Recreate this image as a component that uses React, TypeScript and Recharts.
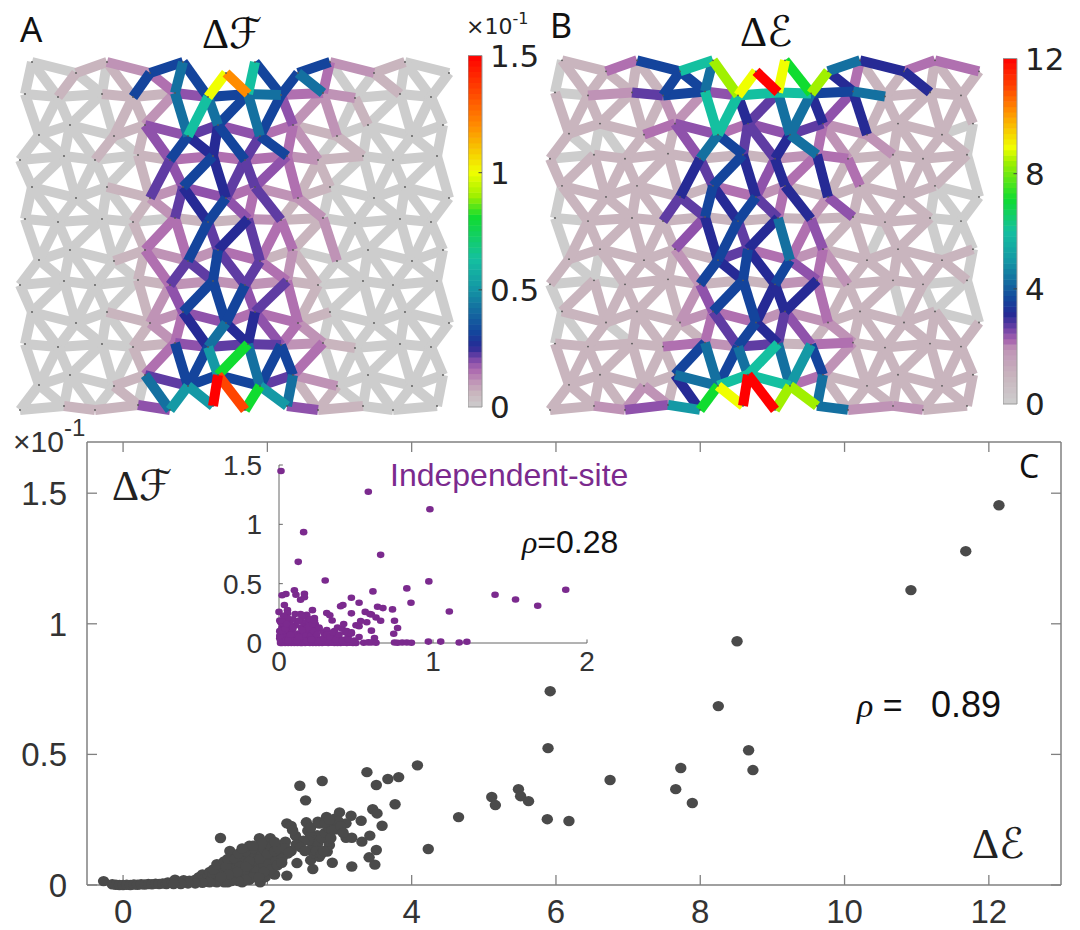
import React from "react";
import { ScatterChart, Scatter, XAxis, YAxis, ReferenceArea, ReferenceLine } from "recharts";

// ---- mesh node readings (one repeating block of 4 rows, repeats every 125 units)
const ROW_X = [
  [32, 76, 107, 150, 183, 226, 255, 298, 330, 374, 405, 449],
  [25, 58, 102, 133, 175, 208, 248, 281, 323, 355, 400, 431],
  [39, 70, 114, 145, 188, 218, 260, 293, 337, 368, 412, 443],
  [20, 64, 95, 138, 170, 213, 245, 287, 318, 363, 393, 437],
];
const ROW_Y = [
  [62, 73, 62, 73, 62, 73, 62, 73, 62, 73, 62, 73],
  [94, 97, 94, 97, 93, 97, 94, 95, 93, 98, 94, 97],
  [135, 125, 136, 125, 136, 125, 136, 125, 136, 125, 136, 125],
  [160, 156, 160, 155, 160, 156, 160, 156, 160, 156, 160, 156],
];
const BLOCK_SHIFT = [0, 125, 250];

// ---- per-link readings, one character per link = index into the level tables; "-" = no link
const LEVEL_KEYS = "0123456789abcdefg";
const LEVEL_F = [0, 0.06, 0.11, 0.15, 0.19, 0.22, 0.255, 0.315, 0.42, 0.51, 0.63, 0.81, 0.9, 1.0, 1.2, 1.35, 1.5];
const LEVEL_E = [0, 0.96, 1.92, 2.1, 2.4, 2.7, 3.1, 3.6, 4.3, 5.0, 6.0, 7.1, 8.4, 8.9, 10.2, 11.0, 12];
const LEVEL_COLORS = ["#cdcdcd", "#c9b5be", "#bf93b6", "#b070b0", "#8f52ab", "#5f3ca3", "#262a95", "#14449c", "#1470a0", "#1499a5", "#14c0a0", "#10dc30", "#a0f000", "#f0ff00", "#ff8c00", "#ff4400", "#ff0000"];

const F_ROWS = ["0127---7210", "00114783200", "00145431000", "00013332100", "00124321000", "00001121000", "00122310000", "00012221000", "00124331000", "00014552100", "00157752000", "0114---4100"];
const F_GAPS = [
  "00 10 01 73 87 de a7 78 30 01 00 0",
  "0 00 00 11 28 a8 78 74 22 01 00 00",
  "00 00 10 14 76 67 57 32 01 00 00 0",
  "0 00 00 01 54 76 55 43 11 00 00 00",
  "00 00 00 12 56 74 35 12 00 00 00 0",
  "0 00 00 01 33 75 65 33 12 00 00 00",
  "00 00 00 13 55 75 53 21 00 00 00 0",
  "0 00 00 01 24 77 74 53 10 00 00 00",
  "00 00 00 12 36 86 64 32 00 00 00 0",
  "0 00 00 01 37 79 b8 77 30 00 00 00",
  "00 00 01 08 99 gf b9 81 10 00 00 0",
];
const E_ROWS = ["137a---8633", "02574aa7811", "11343452110", "01111123111", "11113211110", "01111111110", "11115321111", "00111121110", "11123221110", "11132513111", "1118aa31111", "1249---8221"];
const E_GAPS = [
  "01 11 11 77 8c dg db c6 31 16 11 1",
  "1 11 11 12 2a a6 58 86 46 11 11 11",
  "10 00 11 14 87 55 68 32 12 11 11 0",
  "1 11 11 11 65 76 46 36 13 11 11 10",
  "01 11 11 55 76 75 36 24 11 11 00 0",
  "0 11 11 11 46 75 68 34 11 01 10 00",
  "10 01 11 12 76 76 74 32 11 11 11 0",
  "0 11 11 11 24 77 66 63 11 10 10 00",
  "00 10 11 11 35 76 54 12 11 11 11 1",
  "1 11 11 11 78 78 a8 97 21 11 11 11",
  "11 11 22 16 bd gg cc 81 11 11 11 1",
];

// ---- panel C, main scatter (dE, dF)
const MAIN_X = [-0.27, -0.15, -0.1, -0.05, 0, 0.05, 0.1, 0.15, 0.2, 0.25, 0.3, 0.35, 0.4, 0.45, 0.5, 0.55, 0.6, 0.62, 0.68, 0.72, 0.76, 0.8, 0.84, 0.88, 0.92, 0.96, 1.0, 1.02, 1.05, 1.08, 1.1, 1.12, 1.15, 1.18, 1.2, 1.22, 1.25, 1.28, 1.3, 1.32, 1.35, 1.38, 1.4, 1.42, 1.45, 1.48, 1.5, 1.5, 1.52, 1.55, 1.57, 1.58, 1.6, 1.62, 1.65, 1.65, 1.68, 1.7, 1.72, 1.75, 1.75, 1.78, 1.8, 1.82, 1.85, 1.85, 1.88, 1.9, 1.92, 1.95, 1.97, 2.0, 2.0, 2.02, 2.05, 2.08, 2.1, 2.12, 2.15, 2.18, 2.22, 2.28, 2.33, 1.35, 1.89, 2.04, 2.25, 2.43, 1.48, 2.27, 2.41, 2.63, 2.9, 3.17, 3.49, 3.41, 3.51, 3.31, 3.09, 3.17, 3.42, 2.39, 2.56, 2.96, 2.92, 2.27, 2.33, 2.54, 2.7, 2.82, 2.94, 3.0, 3.16, 3.3, 3.59, 3.09, 3.46, 3.52, 3.77, 2.53, 2.45, 2.76, 3.38, 3.51, 3.67, 3.82, 4.08, 4.65, 4.23, 2.69, 2.82, 2.86, 2.63, 2.6, 2.83, 2.6, 2.72, 2.64, 5.11, 5.16, 5.48, 5.51, 5.62, 5.88, 6.18, 6.75, 7.66, 7.73, 7.89, 8.67, 8.73, 5.89, 5.92, 8.25, 8.51, 10.92, 11.68, 12.14,
  1.25, 1.3, 1.4, 1.43, 1.45, 1.55, 1.6, 1.62, 1.7, 1.75, 1.8, 1.85, 1.9, 1.95, 2.0, 2.02, 2.05, 2.1, 2.12, 2.15, 2.2, 2.25, 2.3, 2.05, 1.95, 1.8, 1.7, 1.6, 1.5, 1.4, 1.3, 1.2, 1.1, 1.0, 0.9, 0.8, 0.7, 1.75, 1.65, 2.0, 2.1, 1.92, 1.8, 2.6, 2.65, 2.7, 2.75, 2.8, 2.85, 2.9, 2.88, 2.68, 2.75, 2.78, 2.6, 2.57, 2.5, 1.7, 1.58, 1.46, 1.36, 1.88, 2.14, 2.2,
  2.4, 2.46, 2.52, 2.35, 2.72, 2.98, 3.02, 3.05, 2.8, 2.86];
const MAIN_Y = [0.015, 0.003, 0.001, 0, 0, 0.001, 0, 0.002, 0.001, 0.003, 0.002, 0.004, 0.003, 0.005, 0.004, 0.006, 0.004, 0.01, 0.008, 0.02, 0.012, 0.009, 0.018, 0.01, 0.016, 0.012, 0.02, 0.01, 0.03, 0.015, 0.04, 0.022, 0.012, 0.035, 0.05, 0.02, 0.04, 0.012, 0.03, 0.06, 0.045, 0.07, 0.025, 0.05, 0.01, 0.035, 0.06, 0.08, 0.1, 0.05, 0.02, 0.07, 0.09, 0.035, 0.06, 0.01, 0.08, 0.1, 0.05, 0.13, 0.02, 0.07, 0.11, 0.04, 0.09, 0.135, 0.06, 0.01, 0.12, 0.08, 0.03, 0.1, 0.14, 0.06, 0.12, 0.09, 0.04, 0.15, 0.11, 0.13, 0.115, 0.12, 0.13, 0.18, 0.179, 0.179, 0.166, 0.157, 0.13, 0.036, 0.084, 0.061, 0.085, 0.071, 0.078, 0.106, 0.134, 0.166, 0.181, 0.181, 0.189, 0.189, 0.208, 0.213, 0.23, 0.236, 0.226, 0.24, 0.242, 0.261, 0.255, 0.278, 0.265, 0.246, 0.227, 0.236, 0.29, 0.274, 0.309, 0.324, 0.38, 0.398, 0.432, 0.383, 0.406, 0.413, 0.458, 0.26, 0.138, 0.191, 0.179, 0.153, 0.159, 0.134, 0.128, 0.095, 0.108, 0.122, 0.337, 0.306, 0.367, 0.34, 0.321, 0.252, 0.245, 0.402, 0.367, 0.448, 0.314, 0.516, 0.44, 0.524, 0.742, 0.685, 0.933, 1.129, 1.278, 1.454,
  0.06, 0.08, 0.09, 0.07, 0.1, 0.1, 0.12, 0.07, 0.13, 0.09, 0.14, 0.05, 0.1, 0.14, 0.12, 0.08, 0.15, 0.13, 0.09, 0.14, 0.1, 0.14, 0.125, 0.06, 0.05, 0.03, 0.02, 0.015, 0.015, 0.01, 0.01, 0.01, 0.008, 0.006, 0.006, 0.004, 0.004, 0.15, 0.14, 0.16, 0.165, 0.16, 0.15, 0.19, 0.17, 0.16, 0.18, 0.2, 0.22, 0.21, 0.18, 0.13, 0.12, 0.13, 0.22, 0.17, 0.17, 0.07, 0.05, 0.04, 0.03, 0.03, 0.075, 0.085,
  0.155, 0.145, 0.13, 0.21, 0.235, 0.245, 0.225, 0.2, 0.24, 0.25];

// ---- panel C, inset scatter (independent-site)
const INSET_X = [0.013, 0.58, 0.98, 0.16, 0.66, 0.125, 0.3, 0.973, 0.83, 0.61, 1.862, 1.403, 1.536, 1.68, 0.857, 1.106, 0.47, 0.52, 0.415, 0.4, 0.64, 0.675, 0.737, 0.47, 0.217, 0.31, 0.33, 0.56, 0.59, 0.6, 0.63, 0.66, 0.53, 0.52, 0.57, 0.75, 0.77, 0.745, 0.6, 0.62, 0.02, 0.045, 0.1, 0.11, 0.165, 0.14, 0.165, 0.035, 0.055, 0.055, 0, 0.105, 0.14, 0.18, 0.22, 0.01, 0.02, 0.03, 0.04, 0.05, 0.06, 0.07, 0.08, 0.09, 0.1, 0.11, 0.12, 0.13, 0.14, 0.15, 0.16, 0.17, 0.18, 0.19, 0.2, 0.21, 0.22, 0.23, 0.24, 0.25, 0.26, 0.28, 0.3, 0.32, 0.34, 0.36, 0.38, 0.4, 0.42, 0.44, 0.46, 0.48, 0.5, 0.55, 0.58, 0.6, 0.63, 0.75, 0.77, 0.8, 0.83, 0.86, 0.97, 1.05, 1.17, 1.22, 0.005, 0.015, 0.025, 0.03, 0.04, 0.05, 0.06, 0.065, 0.075, 0.085, 0.095, 0.11, 0.125, 0.135, 0.155, 0.17, 0.185, 0.2, 0.21, 0.225, 0.24, 0.27, 0.3, 0.33, 0.35, 0.37, 0.39, 0.43, 0.45, 0.005, 0.02, 0.035, 0.05, 0.07, 0.09, 0.105, 0.12, 0.145, 0.16, 0.175, 0.19, 0.205, 0.22, 0.235, 0.26, 0.29, 0.31, 0.36, 0.38, 0.41, 0.44, 0.47, 0.5, 0.01, 0.025, 0.04, 0.06, 0.07, 0.09, 0.18, 0.2, 0.215, 0.23, 0.345, 0.42, 0.03,
  0.005, 0.01, 0.015, 0.02, 0.025, 0.03, 0.035, 0.04, 0.045, 0.05, 0.005, 0.015, 0.025, 0.035, 0.045, 0.055, 0.065, 0.075, 0.01, 0.02, 0.03, 0.04, 0.05, 0.17, 0.18, 0.19, 0.2, 0.21, 0.22, 0.23, 0.24, 0.25, 0.175, 0.185, 0.195, 0.205, 0.215, 0.225, 0.235, 0.245, 0.19, 0.2, 0.21, 0.22, 0.23, 0.15, 0.16, 0.13, 0.26, 0.28, 0.3, 0.32, 0.34, 0.27, 0.29, 0.31, 0.33, 0.35, 0.37, 0.39, 0.41, 0.43, 0.45, 0.47, 0.49, 0.52, 0.07, 0.085, 0.1, 0.115, 0.13, 0.06, 0.15, 0.075, 0.09];
const INSET_Y = [1.45, 1.275, 1.127, 0.934, 0.743, 0.684, 0.527, 0.519, 0.46, 0.435, 0.449, 0.406, 0.367, 0.314, 0.339, 0.266, 0.381, 0.339, 0.32, 0.31, 0.305, 0.294, 0.283, 0.25, 0.277, 0.252, 0.233, 0.262, 0.245, 0.24, 0.215, 0.187, 0.185, 0.142, 0.175, 0.187, 0.126, 0.078, 0.104, 0.042, 0.402, 0.413, 0.445, 0.407, 0.414, 0.365, 0.385, 0.32, 0.277, 0.25, 0.262, 0.245, 0.245, 0.238, 0.198, 0.0, 0.0, 0.005, 0, 0.01, 0, 0.003, 0.0, 0.01, 0, 0.004, 0, 0.006, 0, 0, 0.005, 0, 0.006, 0.002, 0, 0.004, 0, 0.004, 0, 0.006, 0, 0, 0.002, 0, 0.003, 0, 0, 0, 0.002, 0, 0.002, 0, 0, 0.002, 0.005, 0.004, 0.002, 0.004, 0.002, 0.004, 0.004, 0.002, 0.012, 0.012, 0.004, 0.01, 0.04, 0.05, 0.07, 0.03, 0.06, 0.09, 0.05, 0.1, 0.02, 0.08, 0.04, 0.03, 0.08, 0.05, 0.09, 0.04, 0.06, 0.03, 0.1, 0.05, 0.08, 0.03, 0.06, 0.04, 0.03, 0.07, 0.04, 0.03, 0.06, 0.1, 0.13, 0.11, 0.14, 0.16, 0.12, 0.15, 0.18, 0.13, 0.17, 0.14, 0.11, 0.17, 0.13, 0.15, 0.12, 0.09, 0.11, 0.1, 0.13, 0.12, 0.1, 0.09, 0.15, 0.18, 0.14, 0.17, 0.19, 0.15, 0.2, 0.22, 0.18, 0.15, 0.21, 0.19, 0.16, 0.14, 0.19,
  0.02, 0.08, 0.12, 0.03, 0.15, 0.07, 0.11, 0.025, 0.14, 0.06, 0.17, 0.1, 0.2, 0.13, 0.21, 0.05, 0.15, 0.1, 0.19, 0.23, 0.12, 0.16, 0.08, 0.02, 0.07, 0.11, 0.02, 0.13, 0.04, 0.09, 0.02, 0.12, 0.14, 0.17, 0.06, 0.18, 0.1, 0.16, 0.07, 0.13, 0.2, 0.03, 0.16, 0.19, 0.22, 0.07, 0.19, 0.13, 0.02, 0.06, 0.02, 0.05, 0.02, 0.04, 0.07, 0.05, 0.09, 0.03, 0.07, 0.02, 0.09, 0.03, 0.08, 0.02, 0.05, 0.02, 0.02, 0.07, 0.02, 0.05, 0.02, 0.11, 0.07, 0.13, 0.09];

const TICKS_F = [0, 0.5, 1, 1.5];
const TICKS_E = [0, 4, 8, 12];
const MAIN_X_TICKS = [0, 2, 4, 6, 8, 10, 12];
const MAIN_Y_TICKS = [0, 0.5, 1, 1.5];
const INSET_X_TICKS = [0, 1, 2];
const INSET_Y_TICKS = [0, 0.5, 1, 1.5];
const FRAME_ANCHOR = [{ x: 0, y: 0 }];
const MAIN_X_DOMAIN = [-0.5, 13];
const MAIN_Y_DOMAIN = [0, 1.696];

type Pt = { x: number; y: number };
type Edge = { p: Pt; q: Pt; level: number };

function node(r: number, j: number): Pt {
  const block = Math.floor(r / 4);
  return { x: ROW_X[r % 4][j], y: ROW_Y[r % 4][j] + BLOCK_SHIFT[block] };
}

function buildEdges(rows: string[], gapsRaw: string[]): Edge[] {
  const gaps = gapsRaw.map((s) => s.replace(/ /g, ""));
  const out: Edge[] = [];
  const push = (c: string | undefined, a: Pt, b: Pt) => {
    if (!c || c === "-") return;
    out.push({ p: a, q: b, level: LEVEL_KEYS.indexOf(c) });
  };
  rows.forEach((s, r) => {
    for (let j = 0; j < 11; j++) push(s[j], node(r, j), node(r, j + 1));
  });
  gaps.forEach((s, r) => {
    let k = 0;
    if (r % 2 === 0) {
      for (let j = 0; j < 12; j++) {
        push(s[k++], node(r, j), node(r + 1, j));
        if (j < 11) push(s[k++], node(r, j), node(r + 1, j + 1));
      }
    } else {
      for (let j = 0; j < 12; j++) {
        if (j > 0) push(s[k++], node(r, j), node(r + 1, j - 1));
        push(s[k++], node(r, j), node(r + 1, j));
      }
    }
  });
  return out.sort((a, b) => a.level - b.level);
}

const allNodes: Pt[] = [];
for (let r = 0; r < 12; r++) for (let j = 0; j < 12; j++) allNodes.push(node(r, j));

const Nothing = () => <g />;
const NodeDot = (p: any) => <circle cx={p.cx} cy={p.cy} r={0.9} fill="#555" />;

function Mesh({ rows, gaps, left, top, height }: { rows: string[]; gaps: string[]; left: number; top: number; height: number }) {
  const edges = buildEdges(rows, gaps);
  return (
    <div style={{ position: "absolute", left, top }}>
      <ScatterChart width={480} height={height} margin={{ top: 0, right: 0, bottom: 0, left: 0 }}>
        <XAxis type="number" dataKey="x" domain={[0, 480]} hide />
        <YAxis type="number" dataKey="y" domain={[0, 430]} reversed hide />
        {edges.map((e, i) => (
          <Scatter
            key={i}
            data={[e.p, e.q]}
            shape={Nothing}
            line={{ stroke: LEVEL_COLORS[e.level], strokeWidth: 10 }}
            legendType="none"
            isAnimationActive={false}
          />
        ))}
        <Scatter data={allNodes} shape={NodeDot} isAnimationActive={false} />
      </ScatterChart>
    </div>
  );
}

function hexRgb(h: string) {
  return [parseInt(h.slice(1, 3), 16), parseInt(h.slice(3, 5), 16), parseInt(h.slice(5, 7), 16)];
}
function colorAt(v: number, levels: number[]) {
  let i = 0;
  while (i < levels.length - 2 && v > levels[i + 1]) i++;
  const t = Math.max(0, Math.min(1, (v - levels[i]) / (levels[i + 1] - levels[i])));
  const a = hexRgb(LEVEL_COLORS[i]);
  const b = hexRgb(LEVEL_COLORS[i + 1]);
  const c = a.map((x, k) => Math.round(x + (b[k] - x) * t));
  return `rgb(${c[0]},${c[1]},${c[2]})`;
}

function ColorBar({ left, top, height, max, levels, ticks }: { left: number; top: number; height: number; max: number; levels: number[]; ticks: number[] }) {
  const bands = Array.from({ length: 64 }, (_, i) => i);
  const step = max / 64;
  const dummy = [{ x: 0, y: 0 }];
  return (
    <div style={{ position: "absolute", left, top }}>
      <ScatterChart width={90} height={height + 40} margin={{ top: 20, right: 0, bottom: 20, left: 0 }}>
        <XAxis type="number" dataKey="x" domain={[0, 1]} hide />
        <YAxis
          type="number"
          dataKey="y"
          orientation="right"
          width={76}
          domain={[0, max]}
          ticks={ticks}
          interval={0}
          axisLine={false}
          tickLine={false}
          tickMargin={2}
          tick={{ fontFamily: "DejaVu Sans", fontSize: 31, fill: "#222" }}
        />
        <Scatter data={dummy} shape={Nothing} isAnimationActive={false} />
        {bands.map((i) => (
          <ReferenceArea key={i} x1={0} x2={1} y1={i * step} y2={(i + 1) * step + step * 0.1} fill={colorAt((i + 0.5) * step, levels)} fillOpacity={1} stroke="none" ifOverflow="extendDomain" />
        ))}
        <ReferenceArea x1={0} x2={1} y1={0} y2={max} fill="none" stroke="#9a9a9a" strokeWidth={1} />
        {ticks.slice(1, -1).map((t) => (
          <ReferenceLine key={t} segment={[{ x: 0.75, y: t }, { x: 1, y: t }]} stroke="#444" strokeWidth={1} />
        ))}
      </ScatterChart>
    </div>
  );
}

const mainData = MAIN_X.map((x, i) => ({ x, y: MAIN_Y[i] }));
const insetData = INSET_X.map((x, i) => ({ x, y: INSET_Y[i] }));
const MainDot = (p: any) => <ellipse cx={p.cx} cy={p.cy} rx={5.7} ry={5.2} fill="#4a4a4a" />;
const InsetDot = (p: any) => <ellipse cx={p.cx} cy={p.cy} rx={3.8} ry={3.3} fill="#7b2a8e" />;

const MATH = "'Liberation Serif', 'DejaVu Serif', serif";
const SANS = "'Liberation Sans', sans-serif";
const SCRIPT = "'DejaVu Sans'";
const FRAME = "#808080";
const X_TICK_LEN = 0.038; // in y units
const Y_TICK_LEN = 0.139; // in x units

export default function App() {
  return (
    <div style={{ position: "absolute", left: 0, top: 0, width: 1080, height: 930, background: "#fff", overflow: "hidden" }}>
      <Mesh rows={F_ROWS} gaps={F_GAPS} left={0} top={0} height={430} />
      <Mesh rows={E_ROWS} gaps={E_GAPS} left={530} top={-2} height={432} />
      <ColorBar left={468} top={35} height={352} max={1.5} levels={LEVEL_F} ticks={TICKS_F} />
      <ColorBar left={1003} top={38} height={346} max={12} levels={LEVEL_E} ticks={TICKS_E} />

      <div style={{ position: "absolute", left: 0, top: 420 }}>
        <ScatterChart width={1080} height={510} margin={{ top: 21, right: 18, bottom: 0, left: 0 }}>
          <XAxis
            type="number"
            dataKey="x"
            height={45}
            domain={MAIN_X_DOMAIN}
            ticks={MAIN_X_TICKS}
            interval={0}
            allowDataOverflow
            stroke={FRAME}
            strokeWidth={1.5}
            tickLine={false}
            tickSize={-8}
            tickMargin={23}
            tick={{ fontFamily: SANS, fontSize: 33, fill: "#333" }}
          />
          <XAxis xAxisId="top" orientation="top" type="number" dataKey="x" height={1} domain={MAIN_X_DOMAIN} ticks={MAIN_X_TICKS} interval={0} stroke={FRAME} strokeWidth={1.5} tickLine={false} tick={false} />
          <YAxis
            type="number"
            dataKey="y"
            width={87}
            domain={MAIN_Y_DOMAIN}
            ticks={MAIN_Y_TICKS}
            interval={0}
            stroke={FRAME}
            strokeWidth={1.5}
            tickLine={false}
            tickSize={-10}
            tickMargin={30}
            tick={{ fontFamily: SANS, fontSize: 33, fill: "#333" }}
          />
          <YAxis yAxisId="right" orientation="right" type="number" dataKey="y" width={1} domain={MAIN_Y_DOMAIN} ticks={MAIN_Y_TICKS} interval={0} stroke={FRAME} strokeWidth={1.5} tickLine={false} tick={false} />
          <Scatter xAxisId="top" yAxisId="right" data={FRAME_ANCHOR} shape={Nothing} isAnimationActive={false} />
          {MAIN_X_TICKS.map((t) => (
            <ReferenceLine key={"b" + t} segment={[{ x: t, y: 0 }, { x: t, y: X_TICK_LEN }]} stroke={FRAME} strokeWidth={1.3} />
          ))}
          {MAIN_X_TICKS.map((t) => (
            <ReferenceLine key={"t" + t} segment={[{ x: t, y: MAIN_Y_DOMAIN[1] - X_TICK_LEN }, { x: t, y: MAIN_Y_DOMAIN[1] }]} stroke={FRAME} strokeWidth={1.3} />
          ))}
          {MAIN_Y_TICKS.map((t) => (
            <ReferenceLine key={"l" + t} segment={[{ x: MAIN_X_DOMAIN[0], y: t }, { x: MAIN_X_DOMAIN[0] + Y_TICK_LEN, y: t }]} stroke={FRAME} strokeWidth={1.3} />
          ))}
          {MAIN_Y_TICKS.map((t) => (
            <ReferenceLine key={"r" + t} segment={[{ x: MAIN_X_DOMAIN[1] - Y_TICK_LEN, y: t }, { x: MAIN_X_DOMAIN[1], y: t }]} stroke={FRAME} strokeWidth={1.3} />
          ))}
          <Scatter data={mainData} shape={MainDot} isAnimationActive={false} />
        </ScatterChart>
      </div>

      <div style={{ position: "absolute", left: 200, top: 440 }}>
        <ScatterChart width={400} height={243} margin={{ top: 25, right: 13, bottom: 0, left: 0 }}>
          <XAxis
            type="number"
            dataKey="x"
            height={40}
            domain={[0, 2]}
            ticks={INSET_X_TICKS}
            interval={0}
            stroke="#666"
            tickLine={false}
            tickSize={-3}
            tickMargin={11}
            tick={{ fontFamily: SANS, fontSize: 28, fill: "#333" }}
          />
          <YAxis
            type="number"
            dataKey="y"
            width={79}
            domain={[0, 1.5]}
            ticks={INSET_Y_TICKS}
            interval={0}
            stroke="#666"
            tickLine={false}
            tickSize={-3}
            tickMargin={20}
            tick={{ fontFamily: SANS, fontSize: 28, fill: "#333" }}
          />
          {INSET_X_TICKS.map((t) => (
            <ReferenceLine key={"x" + t} segment={[{ x: t, y: 0 }, { x: t, y: 0.03 }]} stroke="#666" />
          ))}
          {INSET_Y_TICKS.map((t) => (
            <ReferenceLine key={"y" + t} segment={[{ x: 0, y: t }, { x: 0.025, y: t }]} stroke="#666" />
          ))}
          <Scatter data={insetData} shape={InsetDot} isAnimationActive={false} />
        </ScatterChart>
      </div>

      <svg width={1080} height={930} style={{ position: "absolute", left: 0, top: 0, pointerEvents: "none" }}>
        <text x={20} y={42} fontFamily="'Noto Sans'" fontSize={35} fill="#111">A</text>
        <text x={550} y={38} fontFamily="'Noto Sans'" fontSize={34} fill="#111">B</text>
        <text x={1019} y={478} fontFamily="'Noto Sans'" fontSize={32} fill="#111">C</text>

        <text x={202} y={48} fontFamily={MATH} fontSize={42} fill="#111">Δ<tspan fontFamily={SCRIPT}>ℱ</tspan></text>
        <text x={740} y={46} fontFamily={MATH} fontSize={42} fill="#111">Δ<tspan fontFamily={SCRIPT}>ℰ</tspan></text>
        <text x={112} y={500} fontFamily={MATH} fontSize={42} fill="#222">Δ<tspan fontFamily={SCRIPT}>ℱ</tspan></text>
        <text x={972} y={858} fontFamily={MATH} fontSize={42} fill="#222">Δ<tspan fontFamily={SCRIPT}>ℰ</tspan></text>

        <text x={466} y={34} fontFamily="'DejaVu Sans'" fontSize={22} fill="#222">×10<tspan dy={-10} fontSize={16}>-1</tspan></text>
        <text x={13} y={452} fontFamily={SANS} fontSize={30} fill="#333">×10<tspan dy={-16} fontSize={24}>-1</tspan></text>

        <text x={390} y={486} fontFamily={SANS} fontSize={32} fill="#7b2a8e">Independent-site</text>
        <text x={522} y={553} fontFamily={MATH} fontStyle="italic" fontSize={32} fill="#111">ρ<tspan fontFamily={SANS} fontStyle="normal">=0.28</tspan></text>
        <text x={857} y={717} fontFamily={MATH} fontStyle="italic" fontSize={34} fill="#111">ρ<tspan fontFamily={SANS} fontStyle="normal"> =</tspan></text>
        <text x={931} y={717} fontFamily={SANS} fontSize={36} fill="#111">0.89</text>
      </svg>
    </div>
  );
}
